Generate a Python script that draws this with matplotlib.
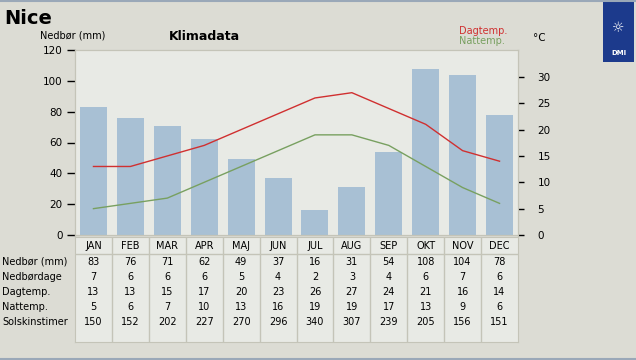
import matplotlib.pyplot as plt
from matplotlib.patches import Rectangle
import numpy as np

months = ['JAN', 'FEB', 'MAR', 'APR', 'MAJ', 'JUN', 'JUL', 'AUG', 'SEP', 'OKT', 'NOV', 'DEC']
nedbor = [83, 76, 71, 62, 49, 37, 16, 31, 54, 108, 104, 78]
nedbordage = [7, 6, 6, 6, 5, 4, 2, 3, 4, 6, 7, 6]
dagtemp = [13, 13, 15, 17, 20, 23, 26, 27, 24, 21, 16, 14]
nattemp = [5, 6, 7, 10, 13, 16, 19, 19, 17, 13, 9, 6]
solskin = [150, 152, 202, 227, 270, 296, 340, 307, 239, 205, 156, 151]
row_labels = ['Nedbør (mm)', 'Nedbørdage', 'Dagtemp.', 'Nattemp.', 'Solskinstimer']

W, H = 636, 360
BG = '#dcdcd4'
PANEL = '#e8eae5'
EDGE = '#c4c4b8'

fig = plt.figure(figsize=(W / 100, H / 100), dpi=100, facecolor=BG)


def px(x, y):
    return x / W, 1 - y / H


# frame lines top/bottom
fig.add_artist(plt.Line2D([0, 1], [1 - 0.5 / H, 1 - 0.5 / H], color='#9aa8b8', lw=1.5))
fig.add_artist(plt.Line2D([0, 1], [1 - 358.5 / H, 1 - 358.5 / H], color='#9aa8b8', lw=1.5))

# main chart
x0, x1, ytop, ybot = 75, 518, 50, 235
ax = fig.add_axes([x0 / W, 1 - ybot / H, (x1 - x0) / W, (ybot - ytop) / H])
ax.set_facecolor(PANEL)
xs = np.arange(len(months))
ax.bar(xs, nedbor, width=0.73, color='#a8c0d4', zorder=2)
ax.set_xlim(-0.5, 11.5)
ax.set_ylim(0, 120)
ax.set_yticks(range(0, 121, 20))
ax.set_xticks([])
ax.tick_params(axis='y', labelsize=7.5, length=6, width=1, color='black', pad=3)
for s in ax.spines.values():
    s.set_color(EDGE)

ax2 = ax.twinx()
ax2.plot(xs, dagtemp, color='#d03030', lw=1, zorder=3)
ax2.plot(xs, nattemp, color='#78a060', lw=1, zorder=3)
ax2.set_ylim(0, 35.1)
ax2.set_yticks(range(0, 31, 5))
ax2.tick_params(axis='y', labelsize=7.5, length=4, width=1, color='black', pad=10)
for s in ax2.spines.values():
    s.set_color(EDGE)

# texts
fig.text(*px(4, 18), 'Nice', fontsize=14, fontweight='bold', va='center', ha='left')
fig.text(*px(40, 36), 'Nedbør (mm)', fontsize=7, va='center', ha='left')
fig.text(*px(169, 36), 'Klimadata', fontsize=9, fontweight='bold', va='center', ha='left')
fig.text(*px(459, 31), 'Dagtemp.', fontsize=7, color='#d03030', va='center', ha='left')
fig.text(*px(459, 41), 'Nattemp.', fontsize=7, color='#78a060', va='center', ha='left')
fig.text(*px(533, 38), '°C', fontsize=7.5, va='center', ha='left')

# DMI logo box
fig.add_artist(Rectangle(px(603, 62), 31 / W, 61 / H, facecolor='#1c3a8c', edgecolor='none'))
fig.text(*px(618.5, 53), 'DMI', fontsize=5, color='white', fontweight='bold', va='center', ha='center')
fig.text(*px(618.5, 28), '☼', fontsize=10, color='white', va='center', ha='center')

# table
ty0, ty1 = 237, 342
tab = fig.add_axes([x0 / W, 1 - ty1 / H, (x1 - x0) / W, (ty1 - ty0) / H])
tab.set_xlim(0, 12)
tab.set_ylim(ty1, ty0)
tab.set_facecolor(PANEL)
tab.set_xticks([])
tab.set_yticks([])
for s in tab.spines.values():
    s.set_color(EDGE)
for i in range(1, 12):
    tab.axvline(i, color=EDGE, lw=1)
tab.axhline(254, color=EDGE, lw=1)
for i, m in enumerate(months):
    tab.text(i + 0.5, 246, m, fontsize=7, ha='center', va='center')
rows = [nedbor, nedbordage, dagtemp, nattemp, solskin]
for r, (lab, vals) in enumerate(zip(row_labels, rows)):
    y = 262 + 15 * r
    fig.text(*px(2, y), lab, fontsize=7, ha='left', va='center')
    for i, v in enumerate(vals):
        tab.text(i + 0.5, y, str(v), fontsize=7, ha='center', va='center')

fig.savefig('out.png', dpi=100, facecolor=BG)
